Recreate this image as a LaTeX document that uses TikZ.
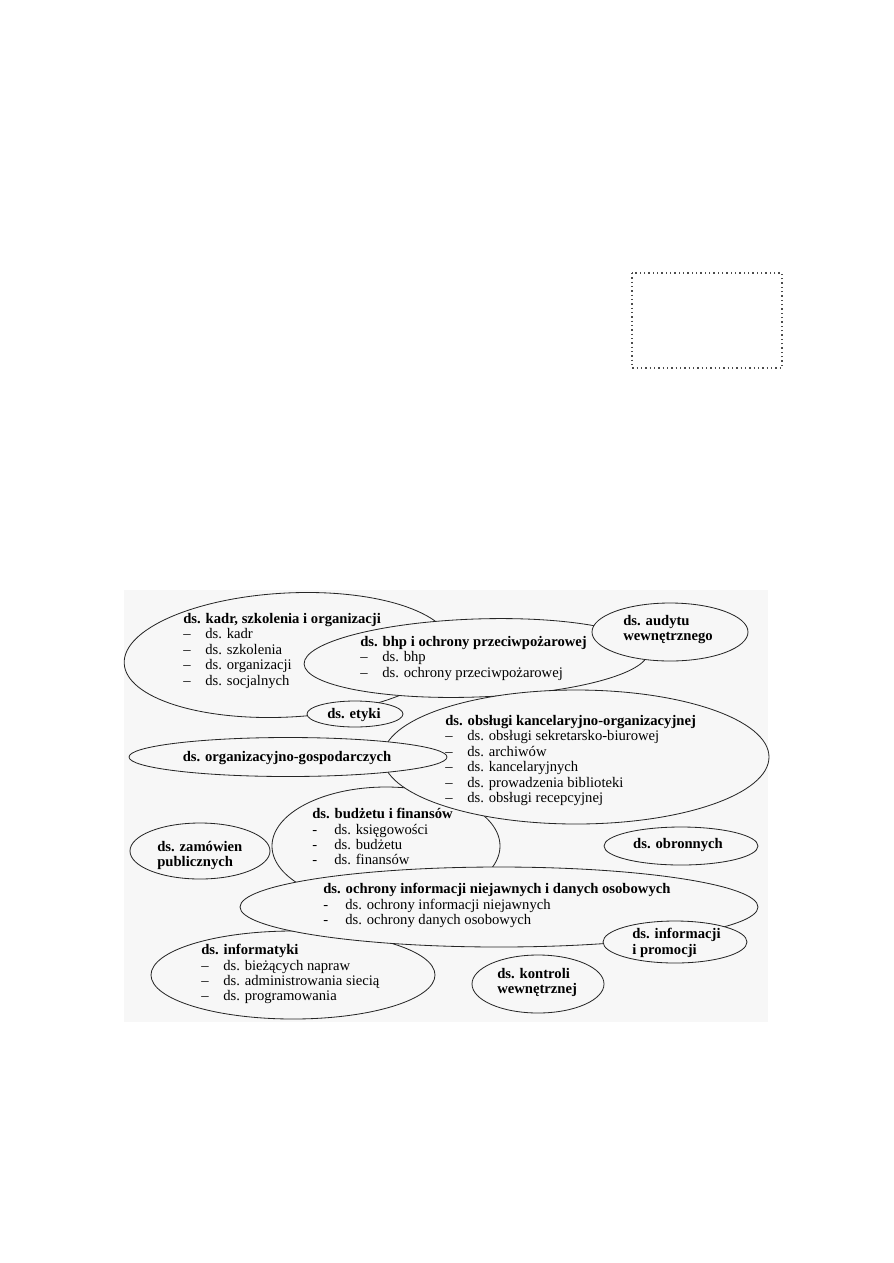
\documentclass[tikz,border=0pt]{standalone}
\usepackage{fontspec}
\setmainfont{Liberation Serif}
\colorlet{chartbg}{black!3}
\colorlet{outline}{black!85}
\tikzstyle{dept}=[draw=outline,fill=chartbg,line width=0.55pt]
\tikzstyle{frame}=[draw=black!70,dotted,line width=0.9pt]
\tikzstyle{deptlist}=[inner sep=0pt,anchor=north west,align=left,font=\fontsize{9.8}{10.3}\selectfont]
\tikzstyle{deptbold}=[deptlist,font=\fontsize{9.8}{10.3}\selectfont\bfseries]
\tikzstyle{deptname}=[inner sep=0pt,anchor=base,font=\fontsize{9.8}{10.3}\selectfont\bfseries]
\newcommand{\dsitem}[1]{\makebox[14.7pt][l]{--}#1}
\newcommand{\dshyp}[1]{\makebox[14.7pt][l]{-}#1}

\begin{document}
\begin{tikzpicture}[x=0.23516mm,y=-0.23516mm]
  \useasboundingbox (0,0) rectangle (893,1263);

  % dotted box, top right
  \draw[frame] (632,273) rectangle (782,368);

  % light grey field behind the ellipses
  \fill[chartbg] (124,590) rectangle (768,1022);

  % ds. kadr, szkolenia i organizacji
  \draw[dept,rotate around={3:(288,655)}] (288,655) ellipse [x radius=164,y radius=62];
  \node[deptlist] (kadr) at (183,613) {\textbf{ds. kadr, szkolenia i organizacji}\\
    \dsitem{ds. kadr}\\ \dsitem{ds. szkolenia}\\ \dsitem{ds. organizacji}\\ \dsitem{ds. socjalnych}};

  % ds. bhp
  \draw[dept,rotate around={2:(476,658)}] (476,658) ellipse [x radius=172,y radius=39];
  \node[deptlist] (bhp) at (360,636) {\textbf{ds. bhp i ochrony przeciwpożarowej}\\
    \dsitem{ds. bhp}\\ \dsitem{ds. ochrony przeciwpożarowej}};

  % ds. audytu
  \draw[dept] (670,632) ellipse [x radius=78,y radius=29];
  \node[deptbold] (audyt) at (623,615) {ds. audytu\\ wewnętrznego};

  % ds. etyki
  \draw[dept] (355,714) ellipse [x radius=48,y radius=13];
  \node[deptname] (etyka) at (354,718) {ds. etyki};

  % ds. budzetu i finansow
  \draw[dept] (386,846) ellipse [x radius=114,y radius=59];
  \node[deptlist] (budzet) at (312,808) {\textbf{ds. budżetu i finansów}\\
    \dshyp{ds. księgowości}\\ \dshyp{ds. budżetu}\\ \dshyp{ds. finansów}};

  % ds. obslugi kancelaryjno-organizacyjnej
  \draw[dept] (576,757) ellipse [x radius=193,y radius=67];
  \node[deptlist] (obsluga) at (445,715) {\textbf{ds. obsługi kancelaryjno-organizacyjnej}\\
    \dsitem{ds. obsługi sekretarsko-biurowej}\\ \dsitem{ds. archiwów}\\
    \dsitem{ds. kancelaryjnych}\\ \dsitem{ds. prowadzenia biblioteki}\\
    \dsitem{ds. obsługi recepcyjnej}};

  % ds. organizacyjno-gospodarczych
  \draw[dept] (288,757) ellipse [x radius=159,y radius=19.5];
  \node[deptname] (gosp) at (287,761) {ds. organizacyjno-gospodarczych};

  % ds. zamowien publicznych
  \draw[dept] (200,851) ellipse [x radius=70,y radius=28];
  \node[deptbold] (zamowienia) at (157,841) {ds. zamówien\\ publicznych};

  % ds. obronnych
  \draw[dept] (681,846) ellipse [x radius=77,y radius=19];
  \node[deptname] (obrona) at (678,848) {ds. obronnych};

  % ds. informatyki
  \draw[dept] (293,975) ellipse [x radius=142,y radius=44];
  \node[deptlist] (informatyka) at (201,944) {\textbf{ds. informatyki}\\
    \dsitem{ds. bieżących napraw}\\ \dsitem{ds. administrowania siecią}\\
    \dsitem{ds. programowania}};

  % ds. ochrony informacji niejawnych
  \draw[dept] (499,907) ellipse [x radius=259,y radius=40];
  \node[deptlist] (ochrona) at (323,883) {\textbf{ds. ochrony informacji niejawnych i danych osobowych}\\
    \dshyp{ds. ochrony informacji niejawnych}\\ \dshyp{ds. ochrony danych osobowych}};

  % ds. informacji i promocji
  \draw[dept] (675,942) ellipse [x radius=72,y radius=21];
  \node[deptbold] (promocja) at (632,928) {ds. informacji\\ i promocji};

  % ds. kontroli wewnetrznej
  \draw[dept] (538,984) ellipse [x radius=66,y radius=29];
  \node[deptbold] (kontrola) at (497,968) {ds. kontroli\\ wewnętrznej};
\end{tikzpicture}
\end{document}
